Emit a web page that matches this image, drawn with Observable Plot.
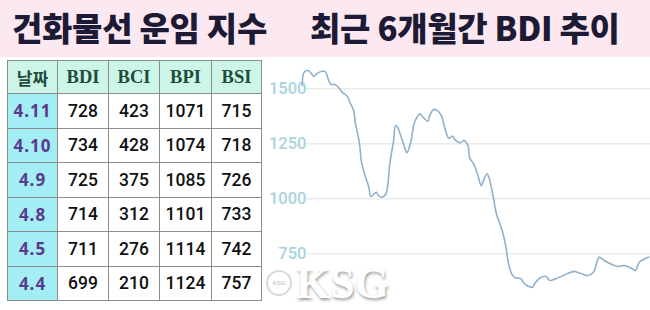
<!DOCTYPE html>
<html><head><meta charset="utf-8">
<script src="https://cdn.jsdelivr.net/npm/d3@7"></script>
<script src="https://cdn.jsdelivr.net/npm/@observablehq/plot@0.6"></script>
<style>
html,body{margin:0;padding:0;}
body{width:650px;height:310px;overflow:hidden;background:#fff;position:relative;font-family:"Noto Sans CJK KR","Noto Sans",sans-serif;}
#head{position:absolute;left:0;top:0;width:650px;height:57px;background:#fce8f0;}
.t{position:absolute;top:5px;font-size:33px;font-weight:900;color:#1d1a35;line-height:44px;white-space:nowrap;letter-spacing:-0.3px;}
#tbl{position:absolute;left:7px;top:60px;border-collapse:collapse;table-layout:fixed;}
#tbl td{border:1.5px solid #8c8c8c;padding:0;text-align:center;box-sizing:border-box;white-space:nowrap;}
#tbl tr.h td{height:33px;background:#cdf6e8;color:#1f4d3c;font-family:"Liberation Serif",serif;font-weight:bold;font-size:18.5px;}
#tbl tr.h td.c0{font-family:"Noto Sans CJK KR",sans-serif;font-size:17px;font-weight:700;}
#tbl tr.r td{height:34.5px;color:#111;font-family:Roboto,sans-serif;font-weight:500;font-size:17.5px;background:#fff;}
#tbl tr.r td.c0{background:#a3edf5;color:#5b3a8c;font-family:"Noto Sans",sans-serif;font-weight:700;font-size:17px;letter-spacing:1px;}
#chart{position:absolute;left:265px;top:57px;}
#wm{position:absolute;left:296px;top:264px;font-family:"Liberation Serif",serif;font-weight:bold;font-size:44px;color:#fff;text-shadow:1px 2px 3px rgba(0,0,0,0.4);line-height:40px;}
#logo{position:absolute;left:266px;top:270px;width:22px;height:22px;border-radius:50%;border:2px solid #d8d8d8;background:#fff;font-family:"Liberation Sans",sans-serif;font-size:6px;color:#bbb;text-align:center;line-height:22px;}
</style></head>
<body>
<div id="head"><span class="t" style="left:12px">건화물선 운임 지수</span><span class="t" style="left:310px">최근 6개월간 BDI 추이</span></div>
<table id="tbl"></table>
<div id="chart"></div>
<div id="logo">KSG</div>
<div id="wm">KSG</div>
<script>
// table data
const headers = ["날짜","BDI","BCI","BPI","BSI"];
const tDates = ["4.11","4.10","4.9","4.8","4.5","4.4"];
const tBDI = [728,734,725,714,711,699];
const tBCI = [423,428,375,312,276,210];
const tBPI = [1071,1074,1085,1101,1114,1124];
const tBSI = [715,718,726,733,742,757];

// chart data: days since 2018-10-11 and BDI values
const days = [0,1,3,5,6,8,10,12,13,15,17,19,21,24,25,27,28,30,31,32,33,35,36,38,39,40,42,44,45,46,48,49,50,52,54,55,57,59,62,63,66,67,69,71,73,75,77,79,80,83,85,87,88,90,92,94,95,97,98,100,102,105,107,108,110,112,115,116,119,121,122,125,128,130,133,137,139,143,145,148,150,153,155,156,158,161,164,166,169,171,174,175,177,179,182];
const bdi = [1515,1575,1583,1568,1556,1571,1579,1579,1561,1520,1520,1507,1485,1462,1439,1401,1341,1257,1174,1136,1106,1053,1010,1025,1030,1015,1007,1023,1068,1159,1265,1333,1326,1280,1227,1209,1257,1348,1386,1375,1353,1379,1406,1401,1379,1318,1275,1285,1270,1255,1265,1242,1185,1159,1114,1060,1079,1114,1098,1023,932,856,780,720,659,641,636,621,601,598,613,641,647,629,636,651,659,670,664,655,651,667,720,735,723,708,697,692,697,692,678,674,712,723,735];
const yTicks = [750,1000,1250,1500];

// build table
const colW = [50,51,51,52,50];
const tbl = document.getElementById("tbl");
const cg = document.createElement("colgroup");
colW.forEach(w => { const c = document.createElement("col"); c.style.width = w + "px"; cg.appendChild(c); });
tbl.appendChild(cg);
const hr = tbl.insertRow(); hr.className = "h";
headers.forEach((h, i) => { const c = hr.insertCell(); c.textContent = h; c.className = "c" + i; });
tDates.forEach((d, i) => {
  const r = tbl.insertRow(); r.className = "r";
  [d, tBDI[i], tBCI[i], tBPI[i], tBSI[i]].forEach((v, j) => { const c = r.insertCell(); c.textContent = v; c.className = "c" + j; });
});

// chart
const start = new Date(Date.UTC(2018, 9, 11));
const data = days.map((d, i) => ({date: d3.utcDay.offset(start, d), bdi: bdi[i]}));
const end = d3.utcDay.offset(start, 182);
const chart = Plot.plot({
  width: 385, height: 253,
  marginLeft: 41, marginRight: 0, marginTop: 0, marginBottom: 0,
  style: {fontFamily: "Roboto, sans-serif", fontSize: "16.5px", background: "transparent"},
  x: {type: "utc", domain: [start, end], range: [36.7, 383.3], axis: null},
  y: {domain: [750, 1500], range: [196.3, 31.3], label: null},
  marks: [
    Plot.gridY(yTicks, {stroke: "#ebebeb", strokeOpacity: 1, strokeWidth: 1.5}),
    Plot.axisY(yTicks, {tickSize: 0, tickPadding: 0, label: null, fill: "#a8d3e0", fontSize: 16.5, fontWeight: 500, tickFormat: d => String(d)}),
    Plot.line(data, {x: "date", y: "bdi", stroke: "#8fb1cd", strokeWidth: 1.6, curve: "catmull-rom"})
  ]
});
document.getElementById("chart").appendChild(chart);
</script>
</body></html>
